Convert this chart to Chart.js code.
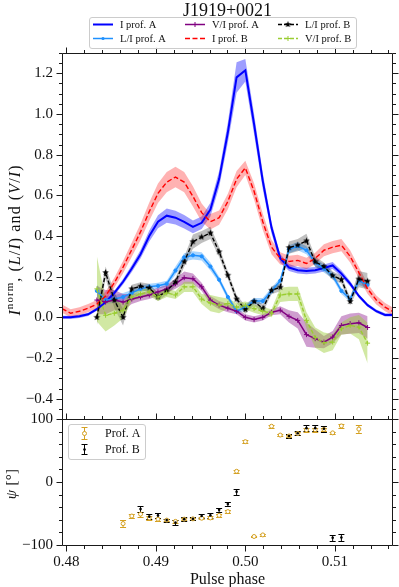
<!DOCTYPE html>
<html>
<head>
<meta charset="utf-8">
<script src="https://cdn.jsdelivr.net/npm/chart.js@4.4.1/dist/chart.umd.min.js"></script>
<style>
html,body{margin:0;padding:0;background:#ffffff;overflow:hidden;}
canvas{display:block;}
</style>
</head>
<body>
<canvas id="chart" width="399" height="587"></canvas>
<script>
// ---------------- data ----------------
const TITLE = 'J1919+0021';
const X_TICKS = [0.48, 0.49, 0.50, 0.51];
const Y_TICKS = [-0.4, -0.2, 0.0, 0.2, 0.4, 0.6, 0.8, 1.0, 1.2];
const PSI_TICKS = [-100, 0, 100];

// pulse-phase bins of the intensity profiles
const PHASE_I = [0.479492,0.480469,0.481445,0.482422,0.483398,0.484375,0.485352,0.486328,0.487305,0.488281,
  0.489258,0.490234,0.491211,0.492188,0.493164,0.494141,0.495117,0.496094,0.497070,0.498047,
  0.499023,0.500000,0.500977,0.501953,0.502930,0.503906,0.504883,0.505859,0.506836,0.507813,
  0.508789,0.509766,0.510742,0.511719,0.512695,0.513672,0.514648,0.515625,0.516602];
// pulse-phase bins of the polarisation fractions
const PHASE_POL = [0.483398,0.484375,0.485352,0.486328,0.487305,0.488281,0.489258,0.490234,0.491211,0.492188,
  0.493164,0.494141,0.495117,0.496094,0.497070,0.498047,0.499023,0.500000,0.500977,0.501953,
  0.502930,0.503906,0.504883,0.505859,0.506836,0.507813,0.508789,0.509766,0.510742,0.511719,
  0.512695,0.513672];

const I_A = [0.0,0.0,0.005,0.015,0.04,0.075,0.12,0.175,0.24,0.31,
  0.40,0.47,0.50,0.49,0.47,0.445,0.465,0.53,0.68,0.91,
  1.18,1.215,0.95,0.67,0.44,0.29,0.245,0.232,0.228,0.232,
  0.243,0.255,0.215,0.166,0.105,0.06,0.03,0.012,0.012];
const I_A_ERR = [0.008,0.008,0.008,0.008,0.008,0.009,0.011,0.014,0.017,0.021,
  0.027,0.032,0.035,0.034,0.033,0.031,0.031,0.034,0.04,0.05,
  0.075,0.055,0.05,0.04,0.028,0.02,0.017,0.016,0.016,0.016,
  0.017,0.017,0.016,0.013,0.01,0.008,0.008,0.008,0.008];

const I_B = [0.043,0.02,0.03,0.045,0.065,0.105,0.17,0.247,0.333,0.42,
  0.52,0.61,0.665,0.69,0.665,0.595,0.515,0.47,0.49,0.57,
  0.68,0.735,0.62,0.47,0.345,0.29,0.275,0.28,0.265,0.29,
  0.33,0.345,0.355,0.30,0.22,0.14,0.085,0.05,0.026];
const I_B_ERR = [0.02,0.02,0.02,0.02,0.02,0.022,0.025,0.03,0.035,0.04,
  0.045,0.048,0.05,0.05,0.05,0.05,0.045,0.038,0.035,0.038,
  0.04,0.035,0.04,0.04,0.035,0.03,0.028,0.028,0.028,0.028,
  0.03,0.03,0.03,0.03,0.028,0.025,0.022,0.02,0.02];

const L_A = [0.13,0.085,0.09,0.10,0.12,0.14,0.15,0.155,0.165,0.23,
  0.295,0.305,0.30,0.25,0.185,0.10,0.03,0.05,0.08,0.08,
  0.13,0.18,0.335,0.35,0.33,0.27,0.24,0.205,0.13,0.09,
  0.18,0.16];
const L_A_ERR = [0.03,0.02,0.02,0.02,0.015,0.015,0.015,0.015,0.015,0.02,
  0.02,0.02,0.02,0.02,0.015,0.015,0.015,0.015,0.015,0.015,
  0.015,0.015,0.02,0.02,0.02,0.02,0.02,0.015,0.015,0.015,
  0.02,0.02];

const V_A = [0.085,0.075,0.085,0.075,0.09,0.10,0.11,0.125,0.14,0.165,
  0.195,0.19,0.15,0.085,0.06,0.045,0.03,0.0,-0.01,0.0,
  0.025,0.035,0.005,-0.015,-0.085,-0.105,-0.122,-0.097,-0.04,-0.031,
  -0.027,-0.05];
const V_A_ERR = [0.07,0.06,0.05,0.04,0.025,0.02,0.02,0.02,0.02,0.025,
  0.03,0.025,0.02,0.02,0.02,0.02,0.015,0.015,0.015,0.015,
  0.015,0.02,0.03,0.04,0.06,0.045,0.03,0.03,0.045,0.05,
  0.05,0.055];

const L_B = [0.0,0.22,0.085,0.0,0.14,0.153,0.145,0.10,0.13,0.174,
  0.273,0.372,0.395,0.415,0.322,0.207,0.09,0.038,0.078,0.043,
  0.133,0.148,0.343,0.355,0.376,0.273,0.25,0.205,0.186,0.078,
  0.188,0.178];
const L_B_ERR = [0.04,0.03,0.04,0.04,0.02,0.02,0.02,0.02,0.02,0.02,
  0.025,0.035,0.03,0.03,0.025,0.02,0.02,0.02,0.02,0.02,
  0.02,0.02,0.03,0.03,0.035,0.025,0.02,0.02,0.02,0.02,
  0.04,0.04];

const V_B = [0.14,0.01,0.02,0.035,0.10,0.115,0.125,0.10,0.12,0.11,
  0.15,0.15,0.09,0.07,0.06,0.068,0.05,0.058,0.043,0.03,
  0.02,0.11,0.115,0.115,-0.015,-0.10,-0.125,-0.122,-0.056,-0.04,
  -0.048,-0.127];
const V_B_ERR = [0.16,0.08,0.06,0.04,0.02,0.02,0.02,0.02,0.02,0.02,
  0.025,0.025,0.025,0.04,0.04,0.025,0.02,0.02,0.02,0.02,
  0.02,0.035,0.035,0.035,0.04,0.05,0.05,0.04,0.03,0.04,
  0.06,0.1];

// polarisation position angle psi [deg]
const PSI_A_PHASE = [0.486328,0.487305,0.488281,0.489258,0.490234,0.491211,0.492188,0.493164,0.494141,0.495117,
  0.496094,0.497070,0.498047,0.499023,0.500000,0.500977,0.501953,0.502930,0.503906,0.504883,
  0.505859,0.506836,0.507813,0.508789,0.509766,0.510742,0.512695];
const PSI_A = [-66,-54,-51,-57,-59,-60.5,-62.5,-59,-58.5,-57.5,
  -57,-53,-47,17,64,-86.5,-84,88.5,74.5,73,
  77,82.5,83,83.5,78,89,84];
const PSI_A_ERR = [6,3,4,3,2.5,2,2.5,2,2,2,
  2.5,2,2,2.5,2,1.5,2,2,2,2,
  2,3,3,2.5,2,3.5,6];

const PSI_B_PHASE = [0.488281,0.489258,0.490234,0.491211,0.492188,0.493164,0.494141,0.495117,0.496094,0.497070,
  0.498047,0.499023,0.504883,0.505859,0.506836,0.507813,0.508789,0.509766,0.510742];
const PSI_B = [-43,-55,-53,-60.5,-64.5,-59,-58.5,-54,-53,-44,
  -35,-15.5,73,77.5,85.5,85.5,84.5,-88.5,-88];
const PSI_B_ERR = [5,4.5,4.5,2.5,4,3,2.5,3.5,3.5,3.5,
  3.5,5,3,3,4.5,5,5,4.5,5];

// ---------------- styling ----------------
const SERIF = '"Liberation Serif", "Times New Roman", serif';
const AX = '#1a1a1a';
const TXT = '#111111';
const GOLD = '#d4a020';
const X_MIN = 0.4795, X_MAX = 0.5164;

function starCanvas(color, R, r) {
  const c = document.createElement('canvas');
  const s = Math.ceil(R * 2 + 2);
  c.width = s; c.height = s;
  const g = c.getContext('2d');
  g.fillStyle = color;
  g.beginPath();
  for (let i = 0; i < 10; i++) {
    const a = -Math.PI / 2 + i * Math.PI / 5;
    const rr = i % 2 === 0 ? R : r;
    const px = s / 2 + rr * Math.cos(a), py = s / 2 + rr * Math.sin(a);
    if (i === 0) g.moveTo(px, py); else g.lineTo(px, py);
  }
  g.closePath(); g.fill();
  return c;
}
const STAR = starCanvas('#000000', 3.5, 1.5);

const SERIES = [
  {label:'I prof. A',   xs:PHASE_I,   ys:I_A, es:I_A_ERR, color:'#0000ff', band:'rgba(0,0,255,0.38)',     width:2.0, dash:[],    point:null},
  {label:'L/I prof. A', xs:PHASE_POL, ys:L_A, es:L_A_ERR, color:'#1e90ff', band:'rgba(30,144,255,0.38)',  width:1.5, dash:[],    point:'circle', r:1.6},
  {label:'V/I prof. A', xs:PHASE_POL, ys:V_A, es:V_A_ERR, color:'#800080', band:'rgba(128,0,128,0.38)',   width:1.5, dash:[],    point:'cross',  r:2.5},
  {label:'I prof. B',   xs:PHASE_I,   ys:I_B, es:I_B_ERR, color:'#ff0000', band:'rgba(255,0,0,0.30)',     width:1.4, dash:[5,2.5], point:null},
  {label:'L/I prof. B', xs:PHASE_POL, ys:L_B, es:L_B_ERR, color:'#000000', band:'rgba(0,0,0,0.25)',       width:1.4, dash:[4,2], point:STAR,  r:3.5},
  {label:'V/I prof. B', xs:PHASE_POL, ys:V_B, es:V_B_ERR, color:'#9acd32', band:'rgba(154,205,50,0.45)',  width:1.4, dash:[4,2], point:'cross',  r:2.5}
];

const pts = (xs, ys) => xs.map((x, i) => ({x, y: ys[i]}));
const offs = (xs, ys, es, s) => xs.map((x, i) => ({x, y: ys[i] + s * es[i]}));

const datasets = [];
SERIES.forEach((s, i) => {
  datasets.push({label: s.label + ' lo', data: offs(s.xs, s.ys, s.es, -1), yAxisID: 'y',
    borderWidth: 0, pointRadius: 0, fill: false, order: 200 - 2 * i});
  datasets.push({label: s.label + ' hi', data: offs(s.xs, s.ys, s.es, 1), yAxisID: 'y',
    borderWidth: 0, pointRadius: 0, fill: '-1', backgroundColor: s.band, order: 199 - 2 * i});
});
SERIES.forEach((s, i) => {
  datasets.push({label: s.label, data: pts(s.xs, s.ys), yAxisID: 'y',
    borderColor: s.color, borderWidth: s.width, borderDash: s.dash, fill: false, tension: 0,
    pointRadius: s.point ? s.r : 0, pointStyle: s.point || 'circle',
    pointBackgroundColor: s.color, pointBorderColor: s.color, pointBorderWidth: 1,
    order: 50 - i});
});
datasets.push({label: 'Prof. A', data: pts(PSI_A_PHASE, PSI_A), yAxisID: 'yPsi', showLine: false,
  pointStyle: 'circle', pointRadius: 2, pointBorderWidth: 1, pointBorderColor: GOLD,
  pointBackgroundColor: '#ffffff', order: 2});
datasets.push({label: 'Prof. B', data: pts(PSI_B_PHASE, PSI_B), yAxisID: 'yPsi', showLine: false,
  pointStyle: 'circle', pointRadius: 1.3, pointBorderWidth: 0, pointBorderColor: '#000',
  pointBackgroundColor: '#000', order: 1});

function fmtSigned(v, d) {
  const s = Math.abs(v).toFixed(d);
  return v < -1e-9 ? '\u2212' + s : s;
}

function drawErrorBars(chart, xs, ys, es, color) {
  const ctx = chart.ctx, sx = chart.scales.x, sy = chart.scales.yPsi;
  ctx.save();
  ctx.strokeStyle = color; ctx.lineWidth = 1;
  ctx.beginPath();
  xs.forEach((x, i) => {
    const px = sx.getPixelForValue(x);
    const y1 = Math.round(sy.getPixelForValue(ys[i] + es[i])) + 0.5;
    const y2 = Math.round(sy.getPixelForValue(ys[i] - es[i])) + 0.5;
    ctx.moveTo(px, y1); ctx.lineTo(px, y2);
    ctx.moveTo(px - 3, y1); ctx.lineTo(px + 3, y1);
    ctx.moveTo(px - 3, y2); ctx.lineTo(px + 3, y2);
  });
  ctx.stroke();
  ctx.restore();
}

function drawMarker(ctx, s, x, y) {
  if (!s.point) return;
  if (s.point === 'circle') {
    ctx.fillStyle = s.color; ctx.beginPath(); ctx.arc(x, y, s.r, 0, Math.PI * 2); ctx.fill();
  } else if (s.point === 'cross') {
    ctx.strokeStyle = s.color; ctx.lineWidth = 1; ctx.setLineDash([]);
    ctx.beginPath(); ctx.moveTo(x - s.r, y); ctx.lineTo(x + s.r, y);
    ctx.moveTo(x, y - s.r); ctx.lineTo(x, y + s.r); ctx.stroke();
  } else {
    ctx.drawImage(s.point, x - s.point.width / 2, y - s.point.height / 2);
  }
}

function roundRect(ctx, x, y, w, h, r) {
  ctx.beginPath();
  ctx.moveTo(x + r, y); ctx.lineTo(x + w - r, y); ctx.arcTo(x + w, y, x + w, y + r, r);
  ctx.lineTo(x + w, y + h - r); ctx.arcTo(x + w, y + h, x + w - r, y + h, r);
  ctx.lineTo(x + r, y + h); ctx.arcTo(x, y + h, x, y + h - r, r);
  ctx.lineTo(x, y + r); ctx.arcTo(x, y, x + r, y, r); ctx.closePath();
}

function drawRichRotated(ctx, parts, cx, cy, size, spacing) {
  ctx.save();
  ctx.translate(cx, cy); ctx.rotate(-Math.PI / 2);
  ctx.fillStyle = TXT; ctx.textAlign = 'left'; ctx.textBaseline = 'alphabetic';
  if ('letterSpacing' in ctx) ctx.letterSpacing = spacing + 'px';
  const items = parts.map(p => {
    const sz = p.sup ? size * 0.68 : size;
    const f = (p.it ? 'italic ' : '') + sz + 'px ' + SERIF;
    ctx.font = f;
    return {p, f, w: ctx.measureText(p.t).width};
  });
  const total = items.reduce((a, b) => a + b.w, 0);
  let x = -total / 2;
  items.forEach(it => {
    ctx.font = it.f;
    ctx.fillText(it.p.t, x, it.p.sup ? -size * 0.42 : 0);
    x += it.w;
  });
  ctx.restore();
}

const decor = {
  id: 'decor',
  beforeDatasetsDraw(chart) {
    drawErrorBars(chart, PSI_A_PHASE, PSI_A, PSI_A_ERR, GOLD);
    drawErrorBars(chart, PSI_B_PHASE, PSI_B, PSI_B_ERR, '#000000');
  },
  afterDraw(chart) {
    const ctx = chart.ctx;
    const sx = chart.scales.x, st = chart.scales.y, sb = chart.scales.yPsi;
    const L = Math.round(chart.chartArea.left) + 0.5, R = Math.round(chart.chartArea.right) + 0.5;
    const T1 = Math.round(st.top) + 0.5, B1 = Math.round(st.bottom) + 0.5;
    const T2 = Math.round(sb.top) + 0.5, B2 = Math.round(sb.bottom) + 0.5;
    ctx.save();
    ctx.strokeStyle = AX; ctx.lineWidth = 1; ctx.setLineDash([]);
    ctx.beginPath();
    ctx.rect(L, T1, R - L, B1 - T1);
    ctx.rect(L, T2, R - L, B2 - T2);
    // x ticks (major 0.01, minor 0.002)
    for (let i = 240; i <= 258; i++) {
      const v = i * 0.002, len = (i % 5 === 0) ? 6 : 3.5;
      const xp = Math.round(sx.getPixelForValue(v)) + 0.5;
      if (xp < L - 0.2 || xp > R + 0.2) continue;
      ctx.moveTo(xp, T1); ctx.lineTo(xp, T1 - len);
      ctx.moveTo(xp, T2); ctx.lineTo(xp, T2 - len);
      ctx.moveTo(xp, B2); ctx.lineTo(xp, B2 + len);
    }
    // top-panel y ticks (major 0.2, minor 0.05)
    for (let i = -10; i <= 26; i++) {
      const v = i * 0.05, len = (i % 4 === 0) ? 6 : 3.5;
      const yp = Math.round(st.getPixelForValue(v)) + 0.5;
      ctx.moveTo(L, yp); ctx.lineTo(L - len, yp);
      ctx.moveTo(R, yp); ctx.lineTo(R + len, yp);
    }
    // bottom-panel y ticks (major 100, minor 20)
    for (let i = -5; i <= 5; i++) {
      const v = i * 20, len = (v % 100 === 0) ? 6 : 3.5;
      const yp = Math.round(sb.getPixelForValue(v)) + 0.5;
      ctx.moveTo(L, yp); ctx.lineTo(L - len, yp);
      ctx.moveTo(R, yp); ctx.lineTo(R + len, yp);
    }
    ctx.stroke();

    // title
    ctx.fillStyle = TXT; ctx.textAlign = 'center'; ctx.textBaseline = 'alphabetic';
    ctx.font = '18px ' + SERIF;
    ctx.fillText(TITLE, (L + R) / 2, 16);

    // x-axis title
    ctx.font = '16px ' + SERIF;
    ctx.fillText('Pulse phase', (L + R) / 2, 584);

    // y-axis titles
    drawRichRotated(ctx, [
      {t: 'I', it: true}, {t: 'norm', sup: true}, {t: ', ('}, {t: 'L', it: true}, {t: '/'},
      {t: 'I', it: true}, {t: ') and ('}, {t: 'V', it: true}, {t: '/'}, {t: 'I', it: true}, {t: ')'}
    ], 19.5, 240, 16, 1.1);
    drawRichRotated(ctx, [{t: '\u03C8', it: true}, {t: ' [\u00B0]'}], 16, 484, 15, 0.3);

    // top legend
    ctx.fillStyle = 'rgba(255,255,255,0.85)'; ctx.strokeStyle = '#cccccc'; ctx.lineWidth = 1;
    roundRect(ctx, 89.5, 17.5, 267, 31, 2.5); ctx.fill(); ctx.stroke();
    const cols = [93, 185, 278], rows = [24.5, 38.5];
    SERIES.forEach((s, i) => {
      const x0 = cols[Math.floor(i / 2)], y = rows[i % 2];
      ctx.save();
      ctx.strokeStyle = s.color; ctx.lineWidth = s.width; ctx.setLineDash(s.dash);
      ctx.beginPath(); ctx.moveTo(x0, y); ctx.lineTo(x0 + 20, y); ctx.stroke();
      ctx.setLineDash([]);
      drawMarker(ctx, s, x0 + 10, y);
      ctx.restore();
      ctx.fillStyle = TXT; ctx.textAlign = 'left'; ctx.textBaseline = 'middle';
      ctx.font = '10.5px ' + SERIF;
      ctx.fillText(s.label, x0 + 27, y + 0.5);
    });

    // bottom legend
    ctx.fillStyle = 'rgba(255,255,255,0.85)'; ctx.strokeStyle = '#cccccc'; ctx.lineWidth = 1;
    roundRect(ctx, 68.5, 424.5, 77, 35, 2.5); ctx.fill(); ctx.stroke();
    const leg = [{y: 433.5, c: GOLD, t: 'Prof. A', open: true, e: 6}, {y: 449.5, c: '#000000', t: 'Prof. B', open: false, e: 5}];
    leg.forEach(l => {
      const x = 84.5;
      ctx.strokeStyle = l.c; ctx.lineWidth = 1;
      ctx.beginPath();
      ctx.moveTo(x, l.y - l.e); ctx.lineTo(x, l.y + l.e);
      ctx.moveTo(x - 3, l.y - l.e); ctx.lineTo(x + 3, l.y - l.e);
      ctx.moveTo(x - 3, l.y + l.e); ctx.lineTo(x + 3, l.y + l.e);
      ctx.stroke();
      ctx.beginPath(); ctx.arc(x, l.y, l.open ? 2 : 1.3, 0, Math.PI * 2);
      ctx.fillStyle = l.open ? '#ffffff' : '#000000'; ctx.fill();
      if (l.open) ctx.stroke();
      ctx.fillStyle = TXT; ctx.textAlign = 'left'; ctx.textBaseline = 'middle';
      ctx.font = '12px ' + SERIF;
      ctx.fillText(l.t, 105, l.y + 0.5);
    });
    ctx.restore();
  }
};

const tickFont = {family: SERIF, size: 15};
new Chart(document.getElementById('chart').getContext('2d'), {
  type: 'line',
  data: {datasets},
  options: {
    responsive: false, animation: false, devicePixelRatio: 1, events: [],
    layout: {padding: {left: 0, right: 7, top: 53, bottom: 0}},
    plugins: {legend: {display: false}, tooltip: {enabled: false}, title: {display: false}, filler: {propagate: false}},
    scales: {
      x: {
        type: 'linear', position: 'bottom', min: X_MIN, max: X_MAX,
        afterBuildTicks: s => { s.ticks = X_TICKS.map(v => ({value: v})); },
        afterFit: s => { s.height = 42; },
        ticks: {font: tickFont, color: TXT, padding: 8, maxRotation: 0, autoSkip: false,
          callback: v => Number(v).toFixed(2)},
        grid: {display: false, drawTicks: false}, border: {display: false}
      },
      yPsi: {
        type: 'linear', position: 'left', stack: 'panels', stackWeight: 126, min: -100, max: 100,
        afterBuildTicks: s => { s.ticks = PSI_TICKS.map(v => ({value: v})); },
        afterFit: s => { s.width = 62; },
        ticks: {font: tickFont, color: TXT, padding: 9, autoSkip: false, callback: v => fmtSigned(v, 0)},
        grid: {display: false, drawTicks: false}, border: {display: false}
      },
      y: {
        type: 'linear', position: 'left', stack: 'panels', stackWeight: 366, min: -0.5, max: 1.3,
        afterBuildTicks: s => { s.ticks = Y_TICKS.map(v => ({value: v})); },
        afterFit: s => { s.width = 62; },
        ticks: {font: tickFont, color: TXT, padding: 9, autoSkip: false, callback: v => fmtSigned(v, 1)},
        grid: {display: false, drawTicks: false}, border: {display: false}
      }
    }
  },
  plugins: [decor]
});
</script>
</body>
</html>
